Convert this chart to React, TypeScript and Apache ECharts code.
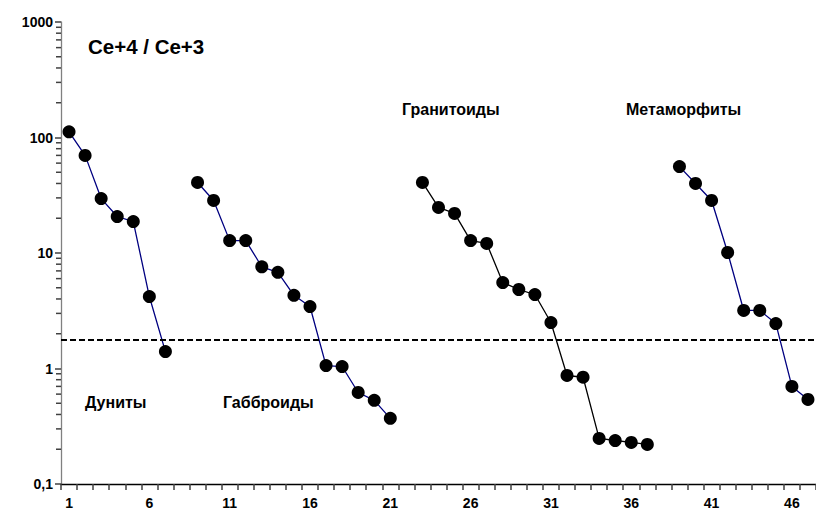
import React, { useEffect, useRef } from "react";
import * as echarts from "echarts";

const categories = [
  "1", "2", "3", "4", "5", "6", "7", "8", "9", "10",
  "11", "12", "13", "14", "15", "16", "17", "18", "19", "20",
  "21", "22", "23", "24", "25", "26", "27", "28", "29", "30",
  "31", "32", "33", "34", "35", "36", "37", "38", "39", "40",
  "41", "42", "43", "44", "45", "46", "47",
];

const dunitesX = ["1", "2", "3", "4", "5", "6", "7"];
const dunitesY = [112, 70, 29.6, 20.7, 18.7, 4.2, 1.4];

const gabbroX = ["9", "10", "11", "12", "13", "14", "15", "16", "17", "18", "19", "20", "21"];
const gabbroY = [40.8, 28.5, 12.8, 12.8, 7.6, 6.8, 4.3, 3.44, 1.06, 1.04, 0.62, 0.53, 0.37];

const granitoidX = ["23", "24", "25", "26", "27", "28", "29", "30", "31", "32", "33", "34", "35", "36", "37"];
const granitoidY = [40.8, 24.8, 22, 12.8, 12.1, 5.55, 4.83, 4.37, 2.5, 0.87, 0.84, 0.248, 0.238, 0.229, 0.22];

const metaX = ["39", "40", "41", "42", "43", "44", "45", "46", "47"];
const metaY = [56, 40, 28.5, 10.1, 3.18, 3.18, 2.45, 0.7, 0.54];

const thresholdValue = 1.78;

const minorTickValues = [
  0.2, 0.3, 0.4, 0.5, 0.6, 0.7, 0.8, 0.9,
  2, 3, 4, 5, 6, 7, 8, 9,
  20, 30, 40, 50, 60, 70, 80, 90,
  200, 300, 400, 500, 600, 700, 800, 900,
];

const groupLabels = ["Дуниты", "Габброиды", "Гранитоиды", "Метаморфиты"];
const titleText = "Ce+4 / Ce+3";

const FONT = "'Liberation Sans', Arial, sans-serif";
const TICK_COLOR = "#404040";

function pairs(xs: string[], ys: number[]) {
  return xs.map((x, i) => [x, ys[i]]);
}

function lineSeries(name: string, xs: string[], ys: number[], color: string, extra: any = {}) {
  return {
    name,
    type: "line",
    data: pairs(xs, ys),
    symbol: "circle",
    symbolSize: 13,
    showSymbol: true,
    showAllSymbol: true,
    itemStyle: { color: "#000000" },
    lineStyle: { color, width: 1.3 },
    ...extra,
  };
}

export default function App() {
  const ref = useRef<HTMLDivElement>(null);

  useEffect(() => {
    if (!ref.current) return;
    const chart = echarts.init(ref.current, null, { renderer: "svg" });
    const labelStyle = { fontFamily: FONT, fontWeight: "bold", fontSize: 16, fill: "#000" };
    chart.setOption({
      animation: false,
      grid: { left: 61, top: 22, right: 0, height: 462, outerBoundsMode: "none" },
      xAxis: {
        type: "category",
        data: categories,
        axisLine: { show: true, lineStyle: { color: "#000000", width: 1.3 } },
        axisTick: { show: true, interval: 0, length: 6, lineStyle: { color: TICK_COLOR, width: 1.5 } },
        axisLabel: {
          interval: 4,
          margin: 12,
          fontFamily: FONT,
          fontWeight: "bold",
          fontSize: 14,
          color: "#000",
        },
        splitLine: { show: false },
      },
      yAxis: {
        type: "log",
        min: 0.1,
        max: 1000,
        axisLine: { show: true, lineStyle: { color: "#808080", width: 1.3 } },
        axisTick: { show: true, length: 6, lineStyle: { color: TICK_COLOR, width: 1.5 } },
        axisLabel: {
          margin: 8,
          fontFamily: FONT,
          fontWeight: "bold",
          fontSize: 14,
          color: "#000",
          formatter: (v: number) => String(v).replace(".", ","),
        },
        splitLine: { show: false },
      },
      series: [
        lineSeries("Дуниты", dunitesX, dunitesY, "#000080", {
          markLine: {
            silent: true,
            symbol: "none",
            label: { show: false },
            lineStyle: { type: [6, 3], color: "#000000", width: 2 },
            data: [{ yAxis: thresholdValue }],
          },
        }),
        lineSeries("Габброиды", gabbroX, gabbroY, "#000080"),
        lineSeries("Гранитоиды", granitoidX, granitoidY, "#000000"),
        lineSeries("Метаморфиты", metaX, metaY, "#000080"),
        {
          type: "custom",
          clip: false,
          data: minorTickValues.map((v) => [0, v]),
          renderItem: (params: any, api: any) => {
            const y = api.coord([0, api.value(1)])[1];
            const x0 = params.coordSys.x;
            return {
              type: "line",
              shape: { x1: x0 - 5, y1: y, x2: x0, y2: y },
              style: { stroke: TICK_COLOR, lineWidth: 1.5 },
            };
          },
        },
      ],
      graphic: [
        {
          type: "text",
          left: 88,
          top: 36,
          style: { text: titleText, fontFamily: FONT, fontWeight: "bold", fontSize: 20.5, fill: "#000" },
        },
        { type: "text", left: 85, top: 394, style: { ...labelStyle, text: groupLabels[0] } },
        { type: "text", left: 223, top: 394, style: { ...labelStyle, text: groupLabels[1] } },
        { type: "text", left: 402, top: 101, style: { ...labelStyle, text: groupLabels[2] } },
        { type: "text", left: 626, top: 101, style: { ...labelStyle, text: groupLabels[3] } },
      ],
    });
    return () => chart.dispose();
  }, []);

  return (
    <div
      ref={ref}
      style={{ position: "fixed", left: 0, top: 0, width: 816, height: 514, background: "#fff" }}
    />
  );
}
